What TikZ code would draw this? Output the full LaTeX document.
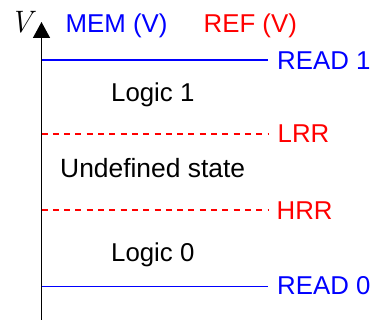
\documentclass[tikz,border=0pt]{standalone}
\usepackage{fontspec}
\setmainfont{Liberation Sans}
\newfontfamily\lmr{Latin Modern Roman}
\usetikzlibrary{arrows.meta}
\definecolor{memblue}{RGB}{0,0,255}
\definecolor{refred}{RGB}{255,0,0}
\tikzset{
  lbl/.style={inner sep=0pt, anchor=base west, font=\fontsize{25.8}{30}\selectfont},
  memline/.style={draw=memblue, line width=1.5pt},
  refline/.style={draw=refred, line width=1.3pt, dash pattern=on 6pt off 5.3pt},
  axisline/.style={draw=black, line width=1.5pt, -{Triangle[width=17pt,length=16pt]}}
}
\begin{document}
\begin{tikzpicture}[x=1pt,y=-1pt]
\useasboundingbox (0,0) rectangle (374,320);
% axis
\coordinate (ax0) at (41.5,320);
\coordinate (ax1) at (41.5,22);
\draw[axisline] (ax0) -- (ax1);
\node[inner sep=0pt, anchor=base west, font=\lmr\itshape\fontsize{31}{36}\selectfont] (vlab) at (9.5,33) {V};
% legend
\node[lbl, text=memblue] (mem) at (65.5,33) {MEM (V)};
\node[lbl, text=refred] (ref) at (203.5,33) {REF (V)};
% READ 1
\coordinate (r1s) at (41.5,60);
\coordinate (r1e) at (268,60);
\draw[memline] (r1s) -- (r1e);
\node[lbl, text=memblue] (read1) at (277,70) {READ 1};
% Logic 1
\node[lbl] (logic1) at (111,101.7) {Logic 1};
% LRR
\coordinate (ls) at (41.5,134);
\coordinate (le) at (268,134);
\draw[refline] (ls) -- (le);
\node[lbl, text=refred] (lrr) at (277.5,142.7) {LRR};
% Undefined
\node[lbl, font=\fontsize{26.4}{30}\selectfont] (undef) at (60,177.3) {Undefined state};
% HRR
\coordinate (hs) at (41.5,210);
\coordinate (he) at (268,210);
\draw[refline] (hs) -- (he);
\node[lbl, text=refred] (hrr) at (276.5,219.3) {HRR};
% Logic 0
\node[lbl] (logic0) at (111,261) {Logic 0};
% READ 0
\coordinate (r0s) at (41.5,286.7);
\coordinate (r0e) at (268,286.7);
\draw[memline] (r0s) -- (r0e);
\node[lbl, text=memblue] (read0) at (277,294.3) {READ 0};
\end{tikzpicture}
\end{document}
